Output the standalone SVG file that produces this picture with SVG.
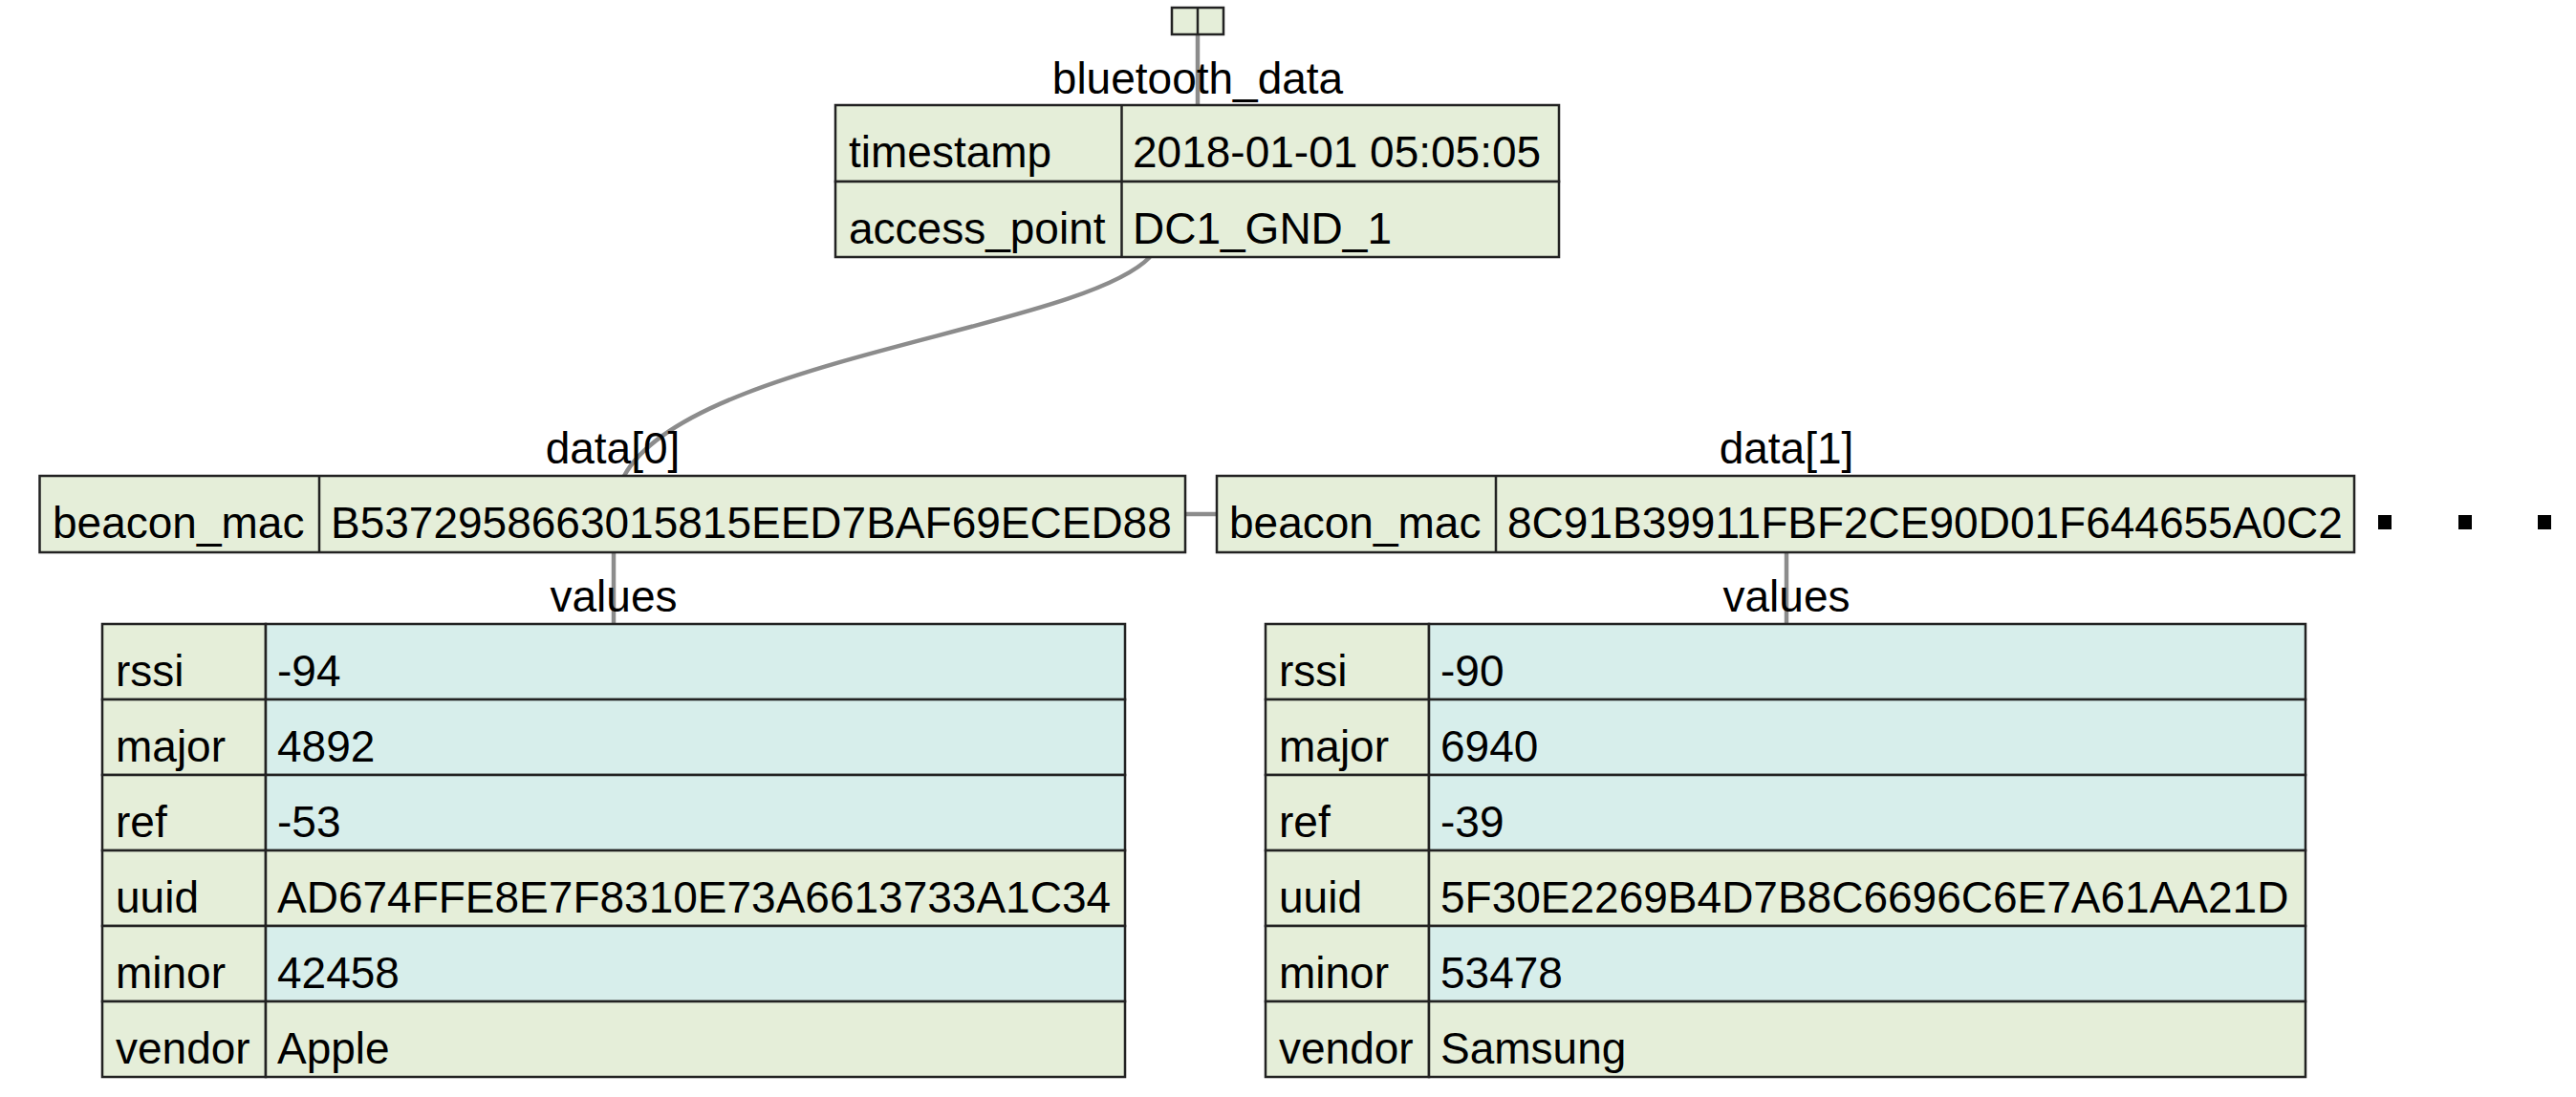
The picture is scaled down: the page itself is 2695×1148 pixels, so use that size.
<svg xmlns="http://www.w3.org/2000/svg" width="2695" height="1148" viewBox="0 0 2695 1148">
<style>
  text { font-family: "Liberation Sans", Arial, sans-serif; font-size: 46px; fill: #000; }
  .title { text-anchor: middle; }
  .g { fill: #e5eed9; stroke: #222; stroke-width: 2.5; }
  .c { fill: #d7eeeb; stroke: #222; stroke-width: 2.5; }
  .div { stroke: #222; stroke-width: 2.5; fill: none; }
  .edge { stroke: #8c8c8c; stroke-width: 4.5; fill: none; }
  .dot { fill: #000; }
</style>
<rect width="2695" height="1148" fill="#fff"/>

<g id="connectors">
  <path class="edge" d="M1253,36 L1253,110"/>
  <path class="edge" d="M1203,269 C1130,345 720,375 653,498"/>
  <path class="edge" d="M1240,538 L1273,538"/>
  <path class="edge" d="M642,578 L642,653"/>
  <path class="edge" d="M1869,578 L1869,653"/>
</g>

<g id="root">
  <rect class="g" x="1226" y="8" width="54" height="28"/>
  <line class="div" x1="1253" y1="8" x2="1253" y2="36"/>
</g>

<g id="bluetooth_data">
  <text class="title" x="1253" y="98">bluetooth_data</text>
  <rect class="g" x="874" y="110" width="757" height="80"/>
  <rect class="g" x="874" y="190" width="757" height="79"/>
  <line class="div" x1="1173.5" y1="110" x2="1173.5" y2="269"/>
  <text x="888" y="175">timestamp</text>
  <text x="1185" y="175">2018-01-01 05:05:05</text>
  <text x="888" y="255">access_point</text>
  <text x="1185" y="255">DC1_GND_1</text>
</g>

<g id="data0">
  <text class="title" x="641" y="485">data[0]</text>
  <rect class="g" x="41.5" y="498" width="1198.5" height="80"/>
  <line class="div" x1="334" y1="498" x2="334" y2="578"/>
  <text x="55" y="563">beacon_mac</text>
  <text x="346" y="563">B5372958663015815EED7BAF69ECED88</text>
</g>

<g id="data1">
  <text class="title" x="1869" y="485">data[1]</text>
  <rect class="g" x="1273" y="498" width="1190" height="80"/>
  <line class="div" x1="1565" y1="498" x2="1565" y2="578"/>
  <text x="1286" y="563">beacon_mac</text>
  <text x="1577" y="563">8C91B39911FBF2CE90D01F644655A0C2</text>
</g>

<g id="values0">
  <text class="title" x="642" y="640">values</text>
  <rect class="g" x="107" y="653" width="171" height="79"/><rect class="c" x="278" y="653" width="899" height="79"/>
  <rect class="g" x="107" y="732" width="171" height="79"/><rect class="c" x="278" y="732" width="899" height="79"/>
  <rect class="g" x="107" y="811" width="171" height="79"/><rect class="c" x="278" y="811" width="899" height="79"/>
  <rect class="g" x="107" y="890" width="171" height="79"/><rect class="g" x="278" y="890" width="899" height="79"/>
  <rect class="g" x="107" y="969" width="171" height="79"/><rect class="c" x="278" y="969" width="899" height="79"/>
  <rect class="g" x="107" y="1048" width="171" height="79"/><rect class="g" x="278" y="1048" width="899" height="79"/>
  <text x="121" y="718">rssi</text><text x="290" y="718">-94</text>
  <text x="121" y="797">major</text><text x="290" y="797">4892</text>
  <text x="121" y="876">ref</text><text x="290" y="876">-53</text>
  <text x="121" y="955">uuid</text><text x="290" y="955">AD674FFE8E7F8310E73A6613733A1C34</text>
  <text x="121" y="1034">minor</text><text x="290" y="1034">42458</text>
  <text x="121" y="1113">vendor</text><text x="290" y="1113">Apple</text>
</g>

<g id="values1">
  <text class="title" x="1869" y="640">values</text>
  <rect class="g" x="1324" y="653" width="171" height="79"/><rect class="c" x="1495" y="653" width="917" height="79"/>
  <rect class="g" x="1324" y="732" width="171" height="79"/><rect class="c" x="1495" y="732" width="917" height="79"/>
  <rect class="g" x="1324" y="811" width="171" height="79"/><rect class="c" x="1495" y="811" width="917" height="79"/>
  <rect class="g" x="1324" y="890" width="171" height="79"/><rect class="g" x="1495" y="890" width="917" height="79"/>
  <rect class="g" x="1324" y="969" width="171" height="79"/><rect class="c" x="1495" y="969" width="917" height="79"/>
  <rect class="g" x="1324" y="1048" width="171" height="79"/><rect class="g" x="1495" y="1048" width="917" height="79"/>
  <text x="1338" y="718">rssi</text><text x="1507" y="718">-90</text>
  <text x="1338" y="797">major</text><text x="1507" y="797">6940</text>
  <text x="1338" y="876">ref</text><text x="1507" y="876">-39</text>
  <text x="1338" y="955">uuid</text><text x="1507" y="955">5F30E2269B4D7B8C6696C6E7A61AA21D</text>
  <text x="1338" y="1034">minor</text><text x="1507" y="1034">53478</text>
  <text x="1338" y="1113">vendor</text><text x="1507" y="1113">Samsung</text>
</g>

<g id="more">
  <rect class="dot" x="2488" y="539" width="14" height="15"/>
  <rect class="dot" x="2572" y="539" width="14" height="15"/>
  <rect class="dot" x="2655" y="539" width="14" height="15"/>
</g>
</svg>
